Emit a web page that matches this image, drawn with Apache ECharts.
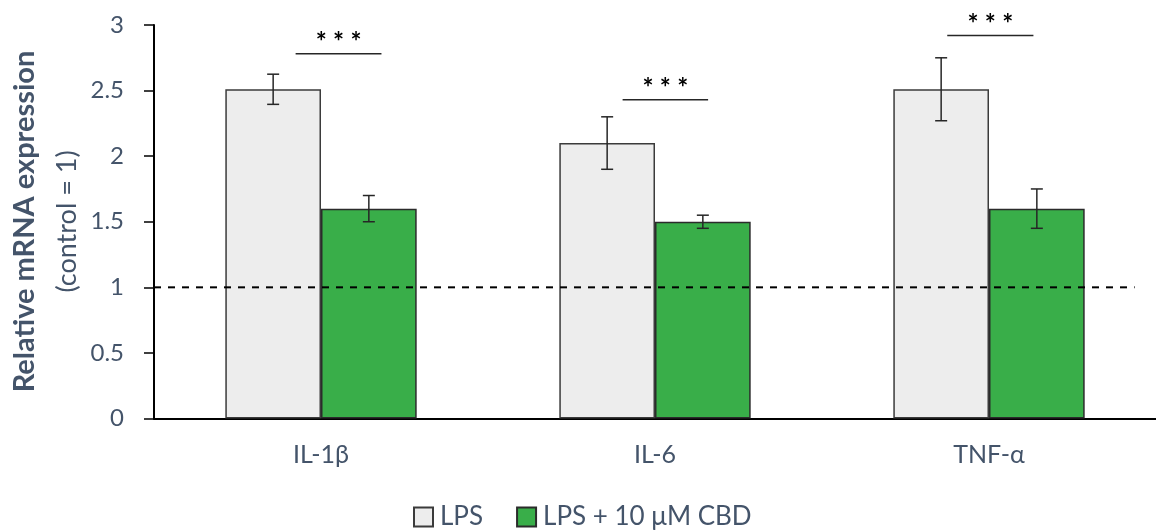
<!DOCTYPE html>
<html>
<head>
<meta charset="utf-8">
<script src="https://cdn.jsdelivr.net/npm/echarts@6/dist/echarts.min.js"></script>
<style>
html,body{margin:0;padding:0;background:#fff;}
#chart{width:1156px;height:531px;}
</style>
</head>
<body>
<div id="chart"></div>
<script>
// ---- data ----
const categories = ['IL-1β', 'IL-6', 'TNF-α'];
const seriesNames = ['LPS', 'LPS + 10 μM CBD'];
const lpsValues = [2.51, 2.10, 2.51];
const lpsErrors = [0.115, 0.20, 0.24];
const cbdValues = [1.60, 1.50, 1.60];
const cbdErrors = [0.10, 0.05, 0.15];
const sigLabels = ['* * *', '* * *', '* * *'];
const sigLevels = [2.78, 2.43, 2.92];
const controlLevel = 1;
const yTicks = [0, 0.5, 1, 1.5, 2, 2.5, 3];

// ---- layout constants (not data) ----
const CAT_GAP = 0.427;            // barCategoryGap fraction
const sigSpan = [[-0.076, 0.181], [-0.097, 0.159], [-0.125, 0.133]];
const refEnd = 0.436;             // dashed line end, in bands past last category centre
const TXT = '#44546A';
const FONT = 'Lato, "Open Sans", sans-serif';

const chart = echarts.init(document.getElementById('chart'), null, {renderer: 'canvas'});

function errorSeries(values, errors, sign) {
  return {
    type: 'custom',
    silent: true,
    z: 5,
    data: values.map((v, i) => [i, v, errors[i]]),
    renderItem: function (params, api) {
      const i = api.value(0), v = api.value(1), e = api.value(2);
      const band = api.size([1, 0])[0];
      const bw = band * (1 - CAT_GAP) / 2;
      const c = api.coord([i, v]);
      const x = c[0] + sign * bw / 2;
      const yTop = api.coord([i, v + e])[1];
      const yBot = api.coord([i, v - e])[1];
      const cap = 6;
      const st = {stroke: '#262626', lineWidth: 1.5};
      return {
        type: 'group',
        children: [
          {type: 'line', shape: {x1: x, y1: yTop, x2: x, y2: yBot}, style: st},
          {type: 'line', shape: {x1: x - cap, y1: yTop, x2: x + cap, y2: yTop}, style: st},
          {type: 'line', shape: {x1: x - cap, y1: yBot, x2: x + cap, y2: yBot}, style: st}
        ]
      };
    }
  };
}

const option = {
  animation: false,
  backgroundColor: '#ffffff',
  textStyle: {fontFamily: FONT},
  grid: {left: 154, top: 25, width: 1011, height: 393.5, containLabel: false},
  legend: {
    data: seriesNames,
    left: 413,
    top: 504,
    padding: 0,
    itemWidth: 19,
    itemHeight: 19,
    itemGap: 33,
    textStyle: {color: TXT, fontSize: 26, lineHeight: 26, fontFamily: FONT, padding: [0, 0, 0, 2]},
    icon: 'rect'
  },
  xAxis: {
    type: 'category',
    data: categories,
    axisLine: {lineStyle: {color: '#000', width: 2}},
    axisTick: {show: false},
    axisLabel: {color: TXT, fontSize: 25, fontFamily: FONT, margin: 24}
  },
  yAxis: {
    type: 'value',
    min: 0, max: 3, interval: 0.5,
    axisLine: {show: true, lineStyle: {color: '#000', width: 2}},
    axisTick: {show: true, length: 10, lineStyle: {color: '#000', width: 1.5}},
    splitLine: {show: false},
    axisLabel: {
      color: TXT, fontSize: 24, fontFamily: FONT, margin: 30,
      formatter: function (v) { return yTicks.indexOf(v) >= 0 ? String(v) : ''; }
    }
  },
  series: [
    {
      name: seriesNames[0],
      type: 'bar',
      data: lpsValues,
      barGap: '0%',
      barCategoryGap: (CAT_GAP * 100) + '%',
      itemStyle: {color: '#EDEDED', borderColor: '#3b3b3b', borderWidth: 1.5},
      z: 2
    },
    {
      name: seriesNames[1],
      type: 'bar',
      data: cbdValues,
      barGap: '0%',
      barCategoryGap: (CAT_GAP * 100) + '%',
      itemStyle: {color: '#39AE49', borderColor: '#2b2b2b', borderWidth: 1.5},
      z: 2
    },
    errorSeries(lpsValues, lpsErrors, -1),
    errorSeries(cbdValues, cbdErrors, 1),
    {
      // significance bars
      type: 'custom',
      silent: true,
      z: 6,
      data: sigLevels.map((y, i) => [i, y]),
      renderItem: function (params, api) {
        const i = api.value(0), y = api.value(1);
        const band = api.size([1, 0])[0];
        const c = api.coord([i, y]);
        const x1 = c[0] + sigSpan[i][0] * band;
        const x2 = c[0] + sigSpan[i][1] * band;
        return {
          type: 'group',
          children: [
            {type: 'line', shape: {x1: x1, y1: c[1], x2: x2, y2: c[1]}, style: {stroke: '#262626', lineWidth: 1.5}},
            {type: 'text', style: {
              text: sigLabels[i], x: (x1 + x2) / 2, y: c[1] - 11,
              align: 'center', verticalAlign: 'middle',
              fill: '#000', font: 'bold 26px ' + FONT
            }}
          ]
        };
      }
    },
    {
      // control reference dashed line
      type: 'custom',
      silent: true,
      z: 7,
      data: [[categories.length - 1, controlLevel]],
      renderItem: function (params, api) {
        const band = api.size([1, 0])[0];
        const c = api.coord([api.value(0), api.value(1)]);
        const x0 = params.coordSys.x;
        const x1 = c[0] + refEnd * band;
        return {
          type: 'line',
          shape: {x1: x0, y1: c[1], x2: x1, y2: c[1]},
          style: {stroke: '#000', lineWidth: 2, lineDash: [7, 7]}
        };
      }
    }
  ],
  graphic: [
    {
      type: 'text',
      x: 25, y: 221.5,
      rotation: Math.PI / 2,
      style: {
        text: 'Relative mRNA expression',
        align: 'center', verticalAlign: 'middle',
        fill: TXT, font: 'bold 29px ' + FONT
      }
    },
    {
      type: 'text',
      x: 67, y: 221.5,
      rotation: Math.PI / 2,
      style: {
        text: '(control = 1)',
        align: 'center', verticalAlign: 'middle',
        fill: TXT, font: '27px ' + FONT
      }
    }
  ]
};
chart.setOption(option);
</script>
</body>
</html>
